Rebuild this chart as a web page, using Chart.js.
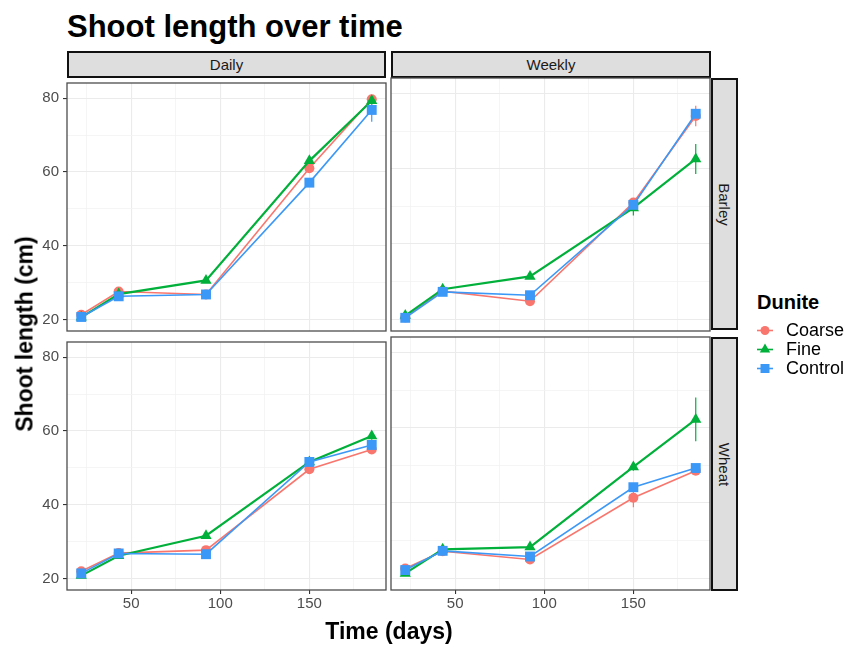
<!DOCTYPE html>
<html>
<head>
<meta charset="utf-8">
<script src="https://cdn.jsdelivr.net/npm/chart.js@4"></script>
<style>
  body { margin: 0; background: #fff; font-family: "Liberation Sans", Arial, sans-serif; }
  #page { position: relative; width: 846px; height: 647px; overflow: hidden; }
  canvas.panel { position: absolute; }
  .title { position: absolute; left: 67px; top: 10.7px; font-size: 31px; line-height: 31px; font-weight: bold; color: #000; }
  .strip { position: absolute; box-sizing: border-box; background: #dedede; border: 2.5px solid #111;
           display: flex; align-items: center; justify-content: center; font-size: 15px; color: #1a1a1a; }
  .strip.side span { transform: rotate(90deg); white-space: nowrap; }
  .axis-title { position: absolute; font-size: 23px; line-height: 23px; font-weight: bold; white-space: nowrap;
                transform: translate(-50%, -50%); }
  .legend-title { position: absolute; left: 757px; top: 291.7px; font-size: 20px; line-height: 20px; font-weight: bold; }
  .legend-row { position: absolute; left: 755px; height: 19px; display: flex; align-items: center; font-size: 18px; }
  .legend-row span { margin-left: 11px; }
</style>
</head>
<body>
<div id="page">
  <div class="title">Shoot length over time</div>

  <div class="strip" style="left:67px; top:50.5px; width:319px; height:27px;"><span>Daily</span></div>
  <div class="strip" style="left:391px; top:50.5px; width:320px; height:27px;"><span>Weekly</span></div>
  <div class="strip side" style="left:711px; top:78px; width:27px; height:252px;"><span>Barley</span></div>
  <div class="strip side" style="left:711px; top:337px; width:27px; height:254px;"><span>Wheat</span></div>

  <canvas class="panel" id="dailyBarley" width="372" height="291" style="left:22px; top:70px;"></canvas>
  <canvas class="panel" id="weeklyBarley" width="372" height="291" style="left:346px; top:70px;"></canvas>
  <canvas class="panel" id="dailyWheat" width="372" height="291" style="left:22px; top:329px;"></canvas>
  <canvas class="panel" id="weeklyWheat" width="372" height="291" style="left:346px; top:329px;"></canvas>

  <div class="axis-title" style="left:25px; top:334px; transform: translate(-50%, -50%) rotate(-90deg);">Shoot length (cm)</div>
  <div class="axis-title" style="left:389px; top:631px;">Time (days)</div>

  <div class="legend-title">Dunite</div>
  <div id="legend"></div>
</div>

<script>
// sampling days
const days = [22, 43, 92, 150, 185];

const seriesNames = ['Coarse', 'Fine', 'Control'];
const seriesColors = ['#F8766D', '#00B03A', '#3C98F6'];
const pointStyles = ['circle', 'triangle', 'rect'];
const pointSizes = [5, 6.5, 7];

// mean shoot length (cm)
const dailyBarleyCoarse  = [21.3, 27.6, 26.8, 61.0, 79.7];
const dailyBarleyFine    = [20.6, 26.9, 30.6, 63.0, 79.3];
const dailyBarleyControl = [20.7, 26.3, 26.8, 57.1, 76.8];

const weeklyBarleyCoarse  = [20.5, 27.5, 24.8, 51.0, 74.0];
const weeklyBarleyFine    = [21.0, 28.0, 31.4, 49.6, 62.6];
const weeklyBarleyControl = [20.4, 27.3, 26.4, 50.4, 74.6];

const dailyWheatCoarse  = [22.0, 26.9, 27.7, 49.6, 55.0];
const dailyWheatFine    = [20.8, 26.2, 31.6, 51.6, 58.6];
const dailyWheatControl = [21.4, 26.8, 26.6, 51.6, 56.2];

const weeklyWheatCoarse  = [22.6, 27.2, 25.0, 41.4, 48.6];
const weeklyWheatFine    = [21.3, 27.7, 28.3, 49.6, 62.2];
const weeklyWheatControl = [22.2, 27.3, 25.8, 44.2, 49.3];

// standard errors (cm)
const dailyBarleyCoarseSe  = [0.5, 0.6, 0.5, 1.0, 1.0];
const dailyBarleyFineSe    = [0.4, 0.5, 0.6, 0.8, 1.0];
const dailyBarleyControlSe = [0.4, 0.5, 0.5, 0.8, 3.2];

const weeklyBarleyCoarseSe  = [0.4, 0.6, 0.6, 1.2, 2.7];
const weeklyBarleyFineSe    = [0.4, 0.5, 0.6, 2.0, 4.0];
const weeklyBarleyControlSe = [0.4, 0.5, 0.5, 1.0, 1.0];

const dailyWheatCoarseSe  = [0.4, 0.5, 0.5, 0.8, 0.8];
const dailyWheatFineSe    = [0.4, 0.5, 0.6, 0.8, 1.0];
const dailyWheatControlSe = [0.4, 0.5, 0.5, 0.8, 0.8];

const weeklyWheatCoarseSe  = [0.5, 0.5, 0.6, 2.5, 1.0];
const weeklyWheatFineSe    = [0.4, 0.6, 0.6, 1.0, 5.8];
const weeklyWheatControlSe = [0.4, 0.5, 0.5, 1.0, 1.0];

const xTicks = [25, 50, 75, 100, 125, 150, 175];
const xLabelled = [50, 100, 150];
const yTicks = [20, 30, 40, 50, 60, 70, 80];
const yLabelled = [20, 40, 60, 80];

const tickFont = { family: '"Liberation Sans", Arial, sans-serif', size: 15 };

// grey frame around each panel
const panelFrame = {
  id: 'panelFrame',
  afterDraw(chart) {
    const { ctx, chartArea: a } = chart;
    ctx.save();
    ctx.strokeStyle = '#4d4d4d';
    ctx.lineWidth = 1.3;
    ctx.strokeRect(a.left, a.top, a.width, a.height);
    ctx.restore();
  }
};

// vertical error bars, drawn under the points
const errorBars = {
  id: 'errorBars',
  beforeDatasetsDraw(chart) {
    const { ctx, scales: { x, y } } = chart;
    ctx.save();
    chart.data.datasets.forEach(ds => {
      ctx.strokeStyle = ds.borderColor;
      ctx.lineWidth = 1.2;
      ds.data.forEach((p, j) => {
        const e = ds.errors[j];
        const px = x.getPixelForValue(p.x);
        ctx.beginPath();
        ctx.moveTo(px, y.getPixelForValue(p.y - e));
        ctx.lineTo(px, y.getPixelForValue(p.y + e));
        ctx.stroke();
      });
    });
    ctx.restore();
  }
};

function makePanel(id, col, row, values, errs) {
  const showY = col === 0;
  const showX = row === 1;
  return new Chart(document.getElementById(id), {
    type: 'line',
    data: {
      datasets: seriesNames.map((name, i) => ({
        label: name,
        data: days.map((d, j) => ({ x: d, y: values[i][j] })),
        errors: errs[i],
        borderColor: seriesColors[i],
        backgroundColor: seriesColors[i],
        borderWidth: i === 1 ? 2.2 : 1.6,
        pointStyle: pointStyles[i],
        pointRadius: pointSizes[i],
        pointBorderWidth: 0,
        order: 2 - i
      }))
    },
    options: {
      responsive: false,
      animation: false,
      events: [],
      layout: { padding: { top: 8, right: 8, left: 0, bottom: 0 } },
      plugins: { legend: { display: false }, tooltip: { enabled: false } },
      scales: {
        x: {
          type: 'linear',
          min: 14,
          max: 193,
          afterBuildTicks: s => { s.ticks = xTicks.map(v => ({ value: v })); },
          afterFit: s => { s.height = 30; },
          border: { display: false },
          grid: {
            color: c => xLabelled.includes(c.tick.value) ? '#ebebeb' : '#f2f2f2',
            lineWidth: c => xLabelled.includes(c.tick.value) ? 1.1 : 0.8,
            drawTicks: showX,
            tickLength: 4,
            tickColor: c => xLabelled.includes(c.tick.value) ? '#333' : 'rgba(0,0,0,0)',
            tickWidth: 1.1
          },
          ticks: {
            display: showX,
            autoSkip: false,
            maxRotation: 0,
            padding: 1,
            font: tickFont,
            color: '#4d4d4d',
            callback: v => xLabelled.includes(v) ? String(v) : ''
          }
        },
        y: {
          min: 16.9,
          max: 84.1,
          afterBuildTicks: s => { s.ticks = yTicks.map(v => ({ value: v })); },
          afterFit: s => { s.width = 45; },
          border: { display: false },
          grid: {
            color: c => yLabelled.includes(c.tick.value) ? '#ebebeb' : '#f2f2f2',
            lineWidth: c => yLabelled.includes(c.tick.value) ? 1.1 : 0.8,
            drawTicks: showY,
            tickLength: 4,
            tickColor: c => yLabelled.includes(c.tick.value) ? '#333' : 'rgba(0,0,0,0)',
            tickWidth: 1.1
          },
          ticks: {
            display: showY,
            autoSkip: false,
            padding: 4,
            font: tickFont,
            color: '#4d4d4d',
            callback: v => yLabelled.includes(v) ? String(v) : ''
          }
        }
      }
    },
    plugins: [panelFrame, errorBars]
  });
}

makePanel('dailyBarley', 0, 0,
  [dailyBarleyCoarse, dailyBarleyFine, dailyBarleyControl],
  [dailyBarleyCoarseSe, dailyBarleyFineSe, dailyBarleyControlSe]);
makePanel('weeklyBarley', 1, 0,
  [weeklyBarleyCoarse, weeklyBarleyFine, weeklyBarleyControl],
  [weeklyBarleyCoarseSe, weeklyBarleyFineSe, weeklyBarleyControlSe]);
makePanel('dailyWheat', 0, 1,
  [dailyWheatCoarse, dailyWheatFine, dailyWheatControl],
  [dailyWheatCoarseSe, dailyWheatFineSe, dailyWheatControlSe]);
makePanel('weeklyWheat', 1, 1,
  [weeklyWheatCoarse, weeklyWheatFine, weeklyWheatControl],
  [weeklyWheatCoarseSe, weeklyWheatFineSe, weeklyWheatControlSe]);

// legend keys: short line with the series marker
function drawKey(ctx, i) {
  const cx = 10, cy = 9.5;
  ctx.strokeStyle = seriesColors[i];
  ctx.fillStyle = seriesColors[i];
  ctx.lineWidth = 1.6;
  ctx.beginPath();
  ctx.moveTo(2, cy);
  ctx.lineTo(18, cy);
  ctx.stroke();
  ctx.beginPath();
  if (pointStyles[i] === 'circle') {
    ctx.arc(cx, cy, 4.5, 0, Math.PI * 2);
  } else if (pointStyles[i] === 'triangle') {
    const r = 6;
    ctx.moveTo(cx, cy - r);
    ctx.lineTo(cx + r * 0.866, cy + r * 0.5);
    ctx.lineTo(cx - r * 0.866, cy + r * 0.5);
    ctx.closePath();
  } else {
    ctx.rect(cx - 4.5, cy - 4.5, 9, 9);
  }
  ctx.fill();
}

const legendRows = [330, 349.5, 368.5];
const legend = document.getElementById('legend');
seriesNames.forEach((name, i) => {
  const row = document.createElement('div');
  row.className = 'legend-row';
  row.style.top = (legendRows[i] - 9.5) + 'px';
  const key = document.createElement('canvas');
  key.width = 20;
  key.height = 19;
  drawKey(key.getContext('2d'), i);
  const label = document.createElement('span');
  label.textContent = name;
  row.appendChild(key);
  row.appendChild(label);
  legend.appendChild(row);
});
</script>
</body>
</html>
